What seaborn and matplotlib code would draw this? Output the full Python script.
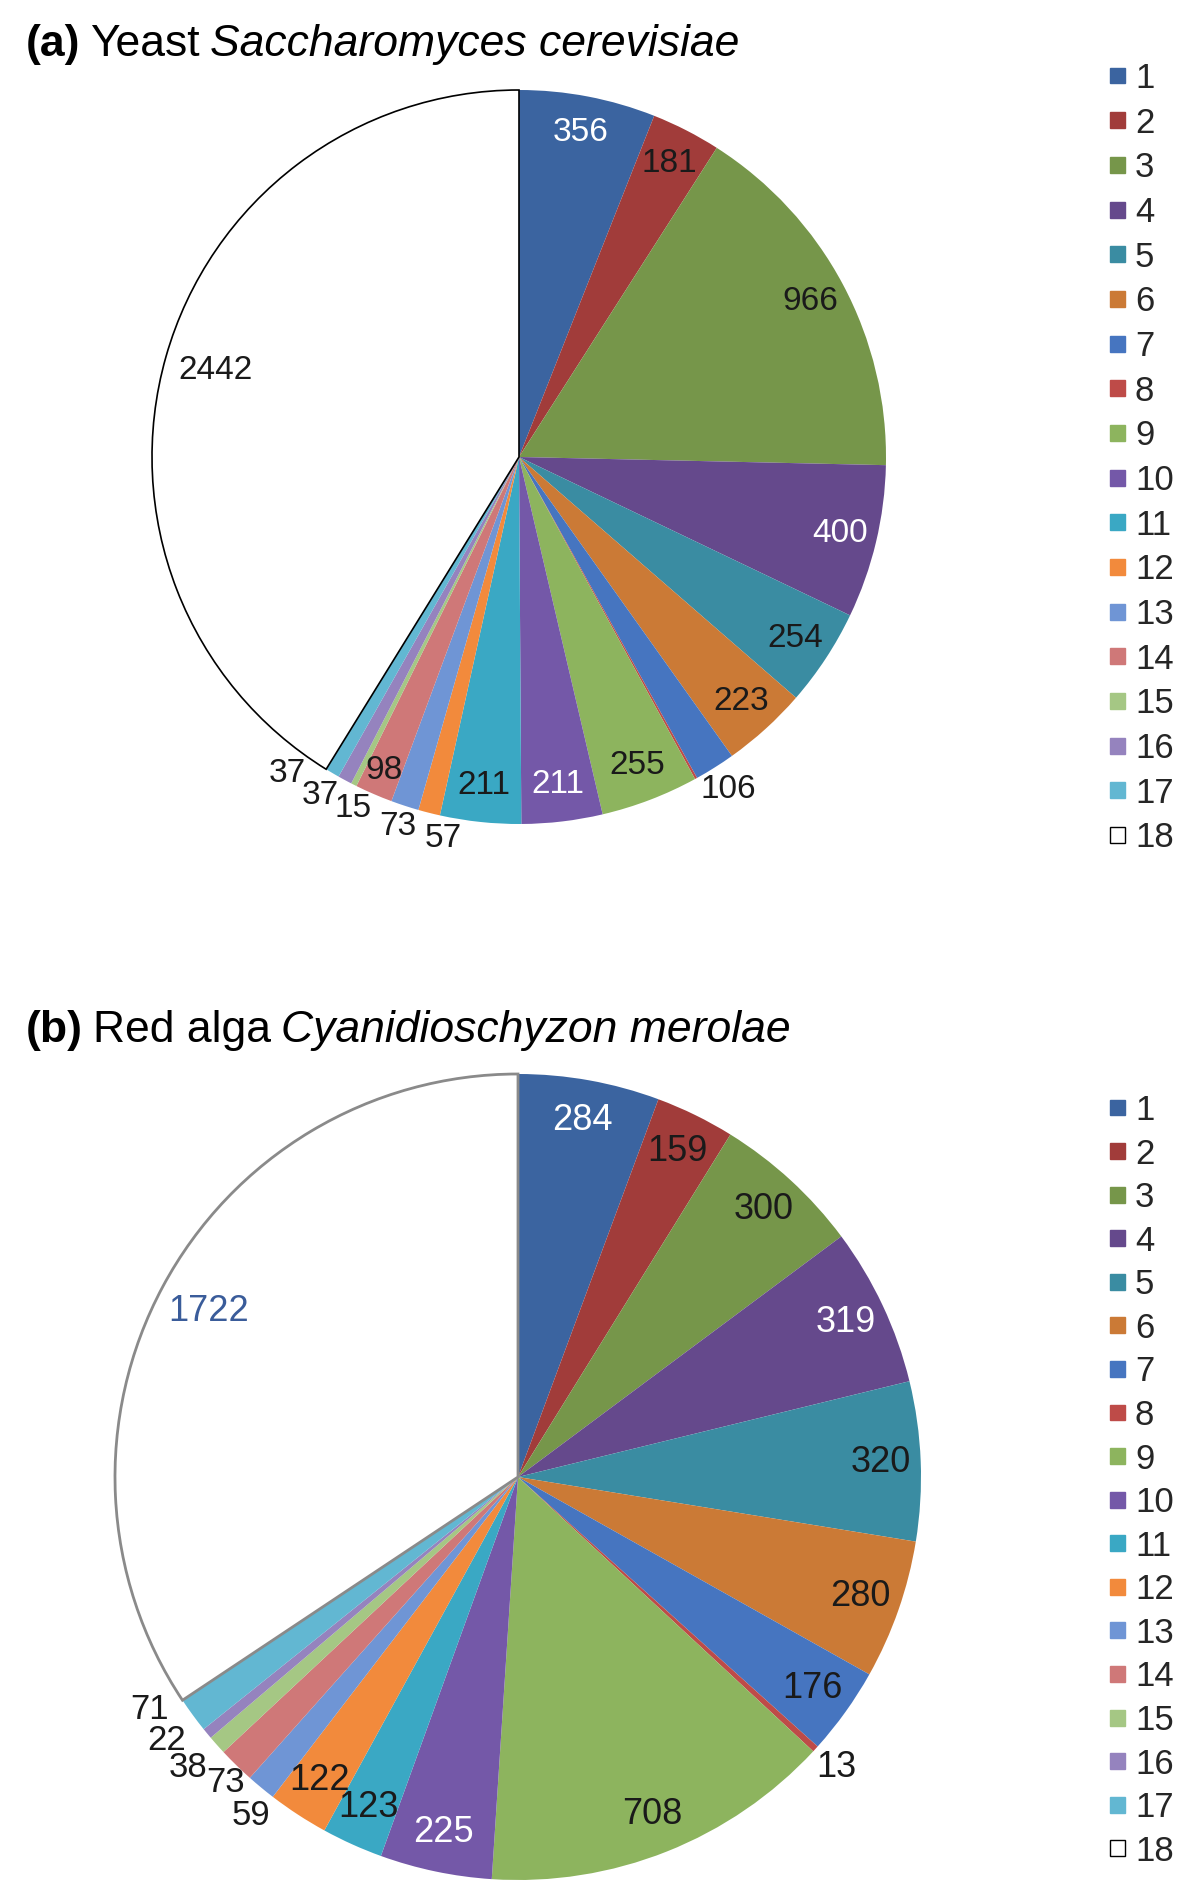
import numpy as np
import pandas as pd
import seaborn as sns
import matplotlib
matplotlib.use("Agg")
import matplotlib.pyplot as plt
from matplotlib import font_manager as fm
from matplotlib.patches import Patch

# ---------------- data ----------------
categories = [str(i) for i in range(1, 19)]
yeast_values = [356, 181, 966, 400, 254, 223, 106, 6, 255, 211, 211, 57, 73, 98, 15, 37, 37, 2442]
yeast_labels = ["356", "181", "966", "400", "254", "223", "106", "", "255", "211", "211",
                "57", "73", "98", "15", "37", "37", "2442"]
alga_values = [284, 159, 300, 319, 320, 280, 176, 13, 708, 225, 123, 122, 59, 73, 38, 22, 71, 1722]
alga_labels = [str(v) for v in alga_values]

# ---------------- style ----------------
sns.set_theme(style="white")
try:
    fm.findfont("Liberation Sans Narrow", fallback_to_default=False)
    TITLE_FONT = "Liberation Sans Narrow"
    TITLE_FS = 36
except Exception:
    TITLE_FONT = "Liberation Sans"
    TITLE_FS = 32
plt.rcParams["font.family"] = ["Liberation Sans", "DejaVu Sans"]

colors = sns.color_palette([
    "#3B64A0", "#A13C3A", "#76964A", "#65498C", "#3A8CA2", "#CB7A36",
    "#4675C0", "#BE4B48", "#8DB45E", "#7458A8", "#3AA8C4", "#F28A3C",
    "#6F95D5", "#CF7878", "#A5C784", "#9583BE", "#62B7D2", "#FFFFFF"])

W, H = 1200, 1894
fig = plt.figure(figsize=(W / 100, H / 100), dpi=100)


def pie_axes(cx, cy, R, pad=1.3):
    s = pad * R
    ax = fig.add_axes([(cx - s) / W, (H - cy - s) / H, 2 * s / W, 2 * s / H])
    return ax, pad


def draw_pie(ax, pad, values, labels, edge, label_r, nudge, txtcol, fsize, small=None):
    wedges, _ = ax.pie(values, colors=colors, startangle=90, counterclock=False,
                       radius=1.0, wedgeprops=dict(linewidth=0))
    wedges[-1].set_edgecolor(edge[0])
    wedges[-1].set_linewidth(edge[1])
    small = small or {}
    for i, w in enumerate(wedges):
        if not labels[i]:
            continue
        mid = np.deg2rad((w.theta1 + w.theta2) / 2 - nudge.get(i, 0.0))
        r = label_r.get(i, 0.9)
        ax.text(r * np.cos(mid), r * np.sin(mid), labels[i], ha="center", va="center",
                fontsize=small.get(i, fsize), color=txtcol.get(i, "#1a1a1a"))
    ax.set_xlim(-pad, pad)
    ax.set_ylim(-pad, pad)
    ax.set_aspect("auto")
    ax.axis("off")
    return wedges


# ---- panel (a)
axA, padA = pie_axes(519, 457, 367)
wA = draw_pie(axA, padA, yeast_values, yeast_labels, ("#000000", 1.2),
              {6: 1.07, 11: 1.06, 12: 1.06, 13: 0.93, 14: 1.06, 15: 1.07, 16: 1.07, 17: 0.86},
              {11: -3.0, 14: -1.5, 15: 2.0, 16: 5.6},
              {0: "white", 3: "white", 9: "white"}, 24)

# ---- panel (b)
axB, padB = pie_axes(518, 1477, 403)
wB = draw_pie(axB, padB, alga_values, alga_labels, ("#8a8a8a", 2.0),
              {7: 1.07, 12: 1.07, 13: 1.05, 14: 1.09, 15: 1.09, 16: 1.08, 17: 0.87},
              {12: -1.4, 13: -0.6, 14: 0.3, 15: 2.6, 16: 3.9},
              {0: "white", 3: "white", 9: "white", 17: "#3A5C9A"}, 26,
              small={12: 25, 13: 25, 14: 25, 15: 25, 16: 25})


# ---- legends
def add_legend(y_first, pitch):
    handles = [Patch(facecolor=colors[i], edgecolor=("#000000" if i == 17 else colors[i]),
                     linewidth=1.0) for i in range(18)]
    fs = 25
    fs_px = fs * 100 / 72
    h = 0.98 * fs_px
    leg = fig.legend(handles, categories, loc="upper left",
                     bbox_to_anchor=(1110 / W, 1 - (y_first - h / 2) / H), frameon=False,
                     fontsize=fs, handlelength=0.42, handleheight=0.33,
                     handletextpad=0.3, borderpad=0, borderaxespad=0,
                     labelspacing=(pitch - h) / fs_px)
    return leg


add_legend(79, 45.7)
add_legend(1111, 44.6)

# ---- titles
renderer = fig.canvas.get_renderer()


def title(x, y, parts):
    for txt, weight, style in parts:
        t = fig.text(x / W, 1 - y / H, txt, fontsize=TITLE_FS, fontweight=weight, fontstyle=style,
                     family=[TITLE_FONT, "DejaVu Sans"], va="baseline", ha="left", color="black")
        bb = t.get_window_extent(renderer=renderer)
        x += bb.width + 10


title(26, 56, [("(a)", "bold", "normal"), ("Yeast", "normal", "normal"),
               ("Saccharomyces cerevisiae", "normal", "italic")])
title(26, 1042, [("(b)", "bold", "normal"), ("Red alga", "normal", "normal"),
                 ("Cyanidioschyzon merolae", "normal", "italic")])

fig.savefig("out.png", dpi=100)
